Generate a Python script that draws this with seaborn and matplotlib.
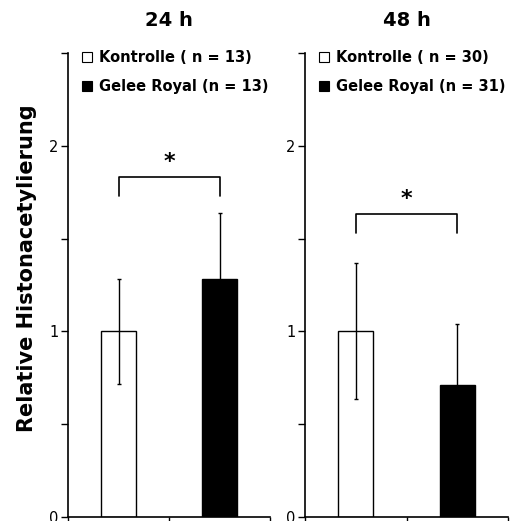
import matplotlib
matplotlib.use("Agg")
import matplotlib.pyplot as plt
from matplotlib.lines import Line2D
import seaborn as sns
import pandas as pd
import numpy as np

# ---- data ----
panels = ["24 h", "48 h"]
groups = ["Kontrolle", "Gelee Royal"]
means_24h = [1.00, 1.285]
sd_24h = [0.285, 0.355]
means_48h = [1.00, 0.71]
sd_48h = [0.366, 0.33]
legend_24h = ["Kontrolle ( n = 13)", "Gelee Royal (n = 13)"]
legend_48h = ["Kontrolle ( n = 30)", "Gelee Royal (n = 31)"]
yticks = [0, 0.5, 1, 1.5, 2, 2.5]
yticklabels = ["0", "", "1", "", "2", ""]
ylabel = "Relative Histonacetylierung"

sns.set_style("white")
plt.rcParams["font.family"] = ["DejaVu Sans"]
plt.rcParams["text.color"] = "black"
plt.rcParams["axes.labelcolor"] = "black"
plt.rcParams["xtick.color"] = "black"
plt.rcParams["ytick.color"] = "black"

fig = plt.figure(figsize=(5.16, 5.21), dpi=100)
axL = fig.add_axes([68/516, 1-517/521, 202/516, 464/521])
axR = fig.add_axes([305/516, 1-517/521, 203/516, 464/521])

colors = ["white", "black"]

def draw(ax, title, title_x, means, sds, labels, bracket_y):
    df = pd.DataFrame({"group": groups, "value": means})
    sns.barplot(data=df, x="group", y="value", hue="group", palette=colors,
                edgecolor="black", linewidth=1.0, width=0.34, ax=ax,
                legend=False, errorbar=None, dodge=False)
    ax.errorbar(x=np.arange(len(groups)), y=means, yerr=sds, fmt="none",
                ecolor="black", elinewidth=1.0, capsize=1.2, capthick=1.0, zorder=3)
    ax.set_xlim(-0.5, 1.5)
    ax.set_ylim(0, 2.5)
    ax.set_yticks(yticks)
    ax.set_yticklabels(yticklabels, fontsize=10.5, color="black")
    ax.set_xticks([-0.5, 0.5, 1.5])
    ax.set_xticklabels([])
    ax.tick_params(axis="both", direction="out", length=5, width=1, color="black",
                   left=True, bottom=True, pad=2)
    ax.set_xlabel("")
    ax.set_ylabel("")
    for s in ["top", "right"]:
        ax.spines[s].set_visible(False)
    for s in ["left", "bottom"]:
        ax.spines[s].set_color("black")
        ax.spines[s].set_linewidth(1.2)
    fig.text(title_x/516, 1-21/521, title, ha="center", va="center",
             fontsize=14, fontweight="bold", color="black")
    # significance bracket
    ax.plot([0, 0, 1, 1], [bracket_y - 0.1, bracket_y, bracket_y, bracket_y - 0.1],
            color="black", lw=1.2)
    ax.text(0.5, bracket_y + 0.03, "*", ha="center", va="bottom",
            fontsize=16, fontweight="bold", color="black")
    handles = [Line2D([], [], marker="s", linestyle="none", markersize=7,
                      markerfacecolor=c, markeredgecolor="black", markeredgewidth=0.8)
               for c in colors]
    leg = ax.legend(handles, labels, loc="upper left", bbox_to_anchor=(-0.005, 1.035),
                    frameon=False, handletextpad=0.3, handlelength=1.0,
                    labelspacing=1.0, prop={"weight": "bold", "size": 10.5})
    for t in leg.get_texts():
        t.set_color("black")

draw(axL, panels[0], 169, means_24h, sd_24h, legend_24h, 1.83)
draw(axR, panels[1], 407, means_48h, sd_48h, legend_48h, 1.63)

fig.text(27/516, 1-268/521, ylabel, rotation=90, ha="center", va="center",
         fontsize=15, fontweight="bold", color="black")

fig.savefig("out.png", dpi=100)
